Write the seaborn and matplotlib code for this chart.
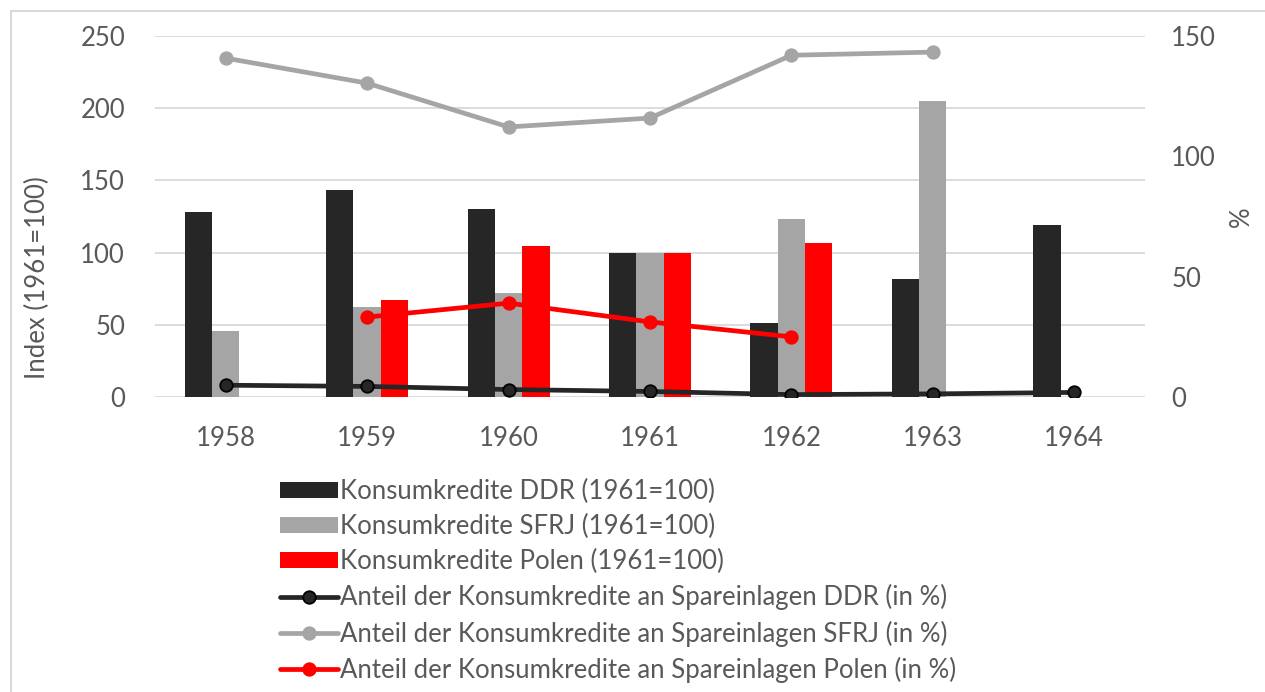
import matplotlib.pyplot as plt
import numpy as np
import pandas as pd
import seaborn as sns

years = ["1958", "1959", "1960", "1961", "1962", "1963", "1964"]

# Index (1961=100), left axis
ddr_index = [128, 143, 130, 100, 51, 82, 119]
sfrj_index = [46, 62, 72, 100, 123, 205, np.nan]
polen_index = [np.nan, 67, 104.5, 100, 106.5, np.nan, np.nan]

# share of consumer credit in savings (%), right axis
ddr_share = [4.9, 4.4, 3.1, 2.3, 1.0, 1.3, 1.9]
sfrj_share = [140.8, 130.4, 112.2, 115.9, 142.0, 143.3, np.nan]
polen_share = [np.nan, 33.2, 39.0, 31.2, 25.0, np.nan, np.nan]

bar_names = ["Konsumkredite DDR (1961=100)",
             "Konsumkredite SFRJ (1961=100)",
             "Konsumkredite Polen (1961=100)"]
line_names = ["Anteil der Konsumkredite an Spareinlagen DDR (in %)",
              "Anteil der Konsumkredite an Spareinlagen SFRJ (in %)",
              "Anteil der Konsumkredite an Spareinlagen Polen (in %)"]
colors = ["#262626", "#A5A5A5", "#FF0000"]
text_col = "#595959"
grid_col = "#D9D9D9"
fs = 18.5

sns.set_style("white")
plt.rcParams["font.family"] = ["Lato", "DejaVu Sans"]

bars = pd.DataFrame({
    "year": years * 3,
    "value": ddr_index + sfrj_index + polen_index,
    "series": sum([[n] * len(years) for n in bar_names], []),
})

lines = pd.DataFrame({
    "pos": list(range(len(years))) * 3,
    "value": ddr_share + sfrj_share + polen_share,
    "series": sum([[n] * len(years) for n in line_names], []),
}).dropna()

fig = plt.figure(figsize=(12.65, 6.92), dpi=100)
ax = fig.add_axes([0.1225, 0.4263, 0.7826, 0.5217])

sns.barplot(ax=ax, data=bars, x="year", y="value", hue="series",
            hue_order=bar_names, palette=colors, width=0.58,
            saturation=1, legend=False, order=years, linewidth=0)
ax.set_ylim(0, 250)
ax.set_xlim(-0.5, len(years) - 0.5)
ax.set_yticks(range(0, 251, 50))
ax.yaxis.grid(True, color=grid_col, linewidth=1.3)
ax.set_axisbelow(True)
ax.set_xlabel("")
ax.set_ylabel("Index (1961=100)", fontsize=fs, color=text_col)
ax.yaxis.set_label_coords(-0.106, 0.33)
ax.tick_params(axis="both", length=0, labelsize=fs, labelcolor=text_col)
ax.tick_params(axis="x", pad=21)
ax.tick_params(axis="y", pad=21.5)
for s in ax.spines.values():
    s.set_visible(False)

ax2 = ax.twinx()
for name, col in zip(line_names, colors):
    sub = lines[lines["series"] == name]
    edge = "#000000" if col == "#262626" else col
    sns.lineplot(ax=ax2, data=sub, x="pos", y="value", color=col,
                 linewidth=3.4, marker="o", markersize=9,
                 markerfacecolor=col, markeredgecolor=edge,
                 markeredgewidth=1.3, label=name, legend=False)
ax2.set_ylim(0, 150)
ax2.set_yticks(range(0, 151, 50))
ax2.set_xlim(-0.5, len(years) - 0.5)
ax2.set_ylabel("%", fontsize=fs, color=text_col)
ax2.yaxis.set_label_coords(1.085, 0.5)
ax2.tick_params(axis="y", length=0, labelsize=fs, labelcolor=text_col, pad=19)
for s in ax2.spines.values():
    s.set_visible(False)

handles = list(ax.containers) + list(ax2.get_lines())
labels = bar_names + line_names
fig.legend(handles, labels, loc="upper left",
           bbox_to_anchor=(0.2213, 0.3078), frameon=False, fontsize=fs,
           labelcolor=text_col, handlelength=2.26, handleheight=0.6,
           handletextpad=0.08, labelspacing=0.39, borderaxespad=0,
           borderpad=0)

# chart-area frame, cut off at right and bottom as in the source
fig.add_artist(plt.Line2D([0.0087, 1.0], [0.984, 0.984],
                          transform=fig.transFigure, color=grid_col, lw=1.5))
fig.add_artist(plt.Line2D([0.0087, 0.0087], [0.0, 0.984],
                          transform=fig.transFigure, color=grid_col, lw=1.5))

fig.savefig("out.png", dpi=100)
